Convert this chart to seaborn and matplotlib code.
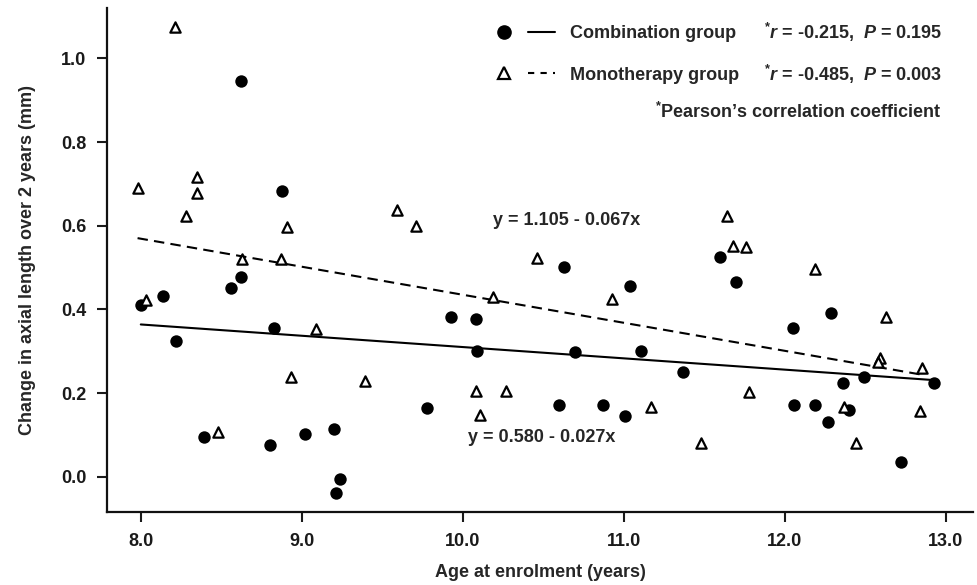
import numpy as np
import pandas as pd
import matplotlib
matplotlib.use("Agg")
import matplotlib.pyplot as plt
from matplotlib.lines import Line2D
from matplotlib.legend_handler import HandlerTuple
import seaborn as sns

# Datos
comb_age = [8.00, 8.14, 8.22, 8.39, 8.56, 8.62, 8.62, 8.80, 8.83, 8.88,
            9.02, 9.20, 9.24, 9.21, 9.78, 9.93, 10.08, 10.09, 10.60, 10.63,
            10.70, 10.87, 11.01, 11.04, 11.11, 11.37, 11.60, 11.70, 12.05, 12.06,
            12.19, 12.27, 12.29, 12.36, 12.40, 12.49, 12.72, 12.93]
comb_al = [0.410, 0.432, 0.325, 0.095, 0.451, 0.477, 0.945, 0.076, 0.356, 0.683,
           0.103, 0.115, -0.005, -0.038, 0.165, 0.382, 0.377, 0.301, 0.172, 0.501,
           0.298, 0.172, 0.146, 0.456, 0.301, 0.250, 0.525, 0.465, 0.356, 0.172,
           0.172, 0.131, 0.391, 0.225, 0.160, 0.239, 0.036, 0.225]

mono_age = [7.98, 8.03, 8.21, 8.28, 8.35, 8.35, 8.48, 8.63, 8.87, 8.91,
            8.93, 9.09, 9.39, 9.59, 9.71, 10.08, 10.11, 10.19, 10.27, 10.46,
            10.93, 11.17, 11.48, 11.64, 11.68, 11.76, 11.78, 12.19, 12.37, 12.44,
            12.59, 12.58, 12.63, 12.85, 12.84]
mono_al = [0.690, 0.422, 1.074, 0.623, 0.716, 0.678, 0.107, 0.520, 0.520, 0.597,
           0.239, 0.353, 0.229, 0.637, 0.599, 0.205, 0.148, 0.430, 0.205, 0.523,
           0.425, 0.167, 0.081, 0.623, 0.551, 0.549, 0.203, 0.496, 0.167, 0.081,
           0.283, 0.275, 0.382, 0.260, 0.158]

# Rectas de regresion (del grafico)
comb_fit = (0.580, -0.027)
mono_fit = (1.105, -0.067)

x_ticks = [8.0, 9.0, 10.0, 11.0, 12.0, 13.0]
y_ticks = [0.0, 0.2, 0.4, 0.6, 0.8, 1.0]

sns.set_theme(style="ticks")
plt.rcParams["font.family"] = ["Liberation Sans", "DejaVu Sans"]
plt.rcParams["font.weight"] = "bold"
plt.rcParams["mathtext.fontset"] = "custom"
plt.rcParams["mathtext.it"] = "Liberation Sans:italic:bold"
plt.rcParams["mathtext.rm"] = "Liberation Sans:bold"

df_comb = pd.DataFrame({"age": comb_age, "al": comb_al})
df_mono = pd.DataFrame({"age": mono_age, "al": mono_al})

fit_comb = pd.DataFrame({"age": [min(comb_age), max(comb_age)]})
fit_comb["al"] = comb_fit[0] + comb_fit[1] * fit_comb["age"]
fit_mono = pd.DataFrame({"age": [min(mono_age), max(mono_age)]})
fit_mono["al"] = mono_fit[0] + mono_fit[1] * fit_mono["age"]

fig = plt.figure(figsize=(9.77, 5.85), dpi=100)
ax = fig.add_axes([0.1095, 0.125, 0.8865, 0.861])

sns.lineplot(data=fit_mono, x="age", y="al", ax=ax, color="black", lw=1.5,
             linestyle=(0, (5, 3)))
sns.lineplot(data=fit_comb, x="age", y="al", ax=ax, color="black", lw=1.5)
sns.scatterplot(data=df_comb, x="age", y="al", ax=ax, color="black",
                marker="o", s=80, edgecolor="black", linewidth=0, zorder=3)
sns.scatterplot(data=df_mono, x="age", y="al", ax=ax, marker="^", s=55,
                facecolor="white", edgecolor="black", linewidth=1.6, zorder=3)

ax.set_xlim(7.79, 13.17)
ax.set_ylim(-0.084, 1.12)
ax.set_xticks(x_ticks)
ax.set_yticks(y_ticks)
ax.set_xticklabels([f"{v:.1f}" for v in x_ticks])
ax.set_yticklabels([f"{v:.1f}" for v in y_ticks])
ax.tick_params(direction="out", length=7, width=1.5, labelsize=13,
               colors="#1a1a1a", pad=8)
for lab in ax.get_xticklabels() + ax.get_yticklabels():
    lab.set_fontweight("bold")
    lab.set_fontsize(13)
sns.despine(ax=ax)
for s in ["left", "bottom"]:
    ax.spines[s].set_linewidth(1.6)
    ax.spines[s].set_color("#111111")

ax.set_xlabel("Age at enrolment (years)", fontsize=13, fontweight="bold",
              labelpad=10)
ax.set_ylabel("Change in axial length over 2 years (mm)", fontsize=13,
              fontweight="bold", labelpad=18)

ax.text(10.19, 0.613, "y = 1.105 - 0.067x", fontsize=13, fontweight="bold",
        va="center", ha="left")
ax.text(10.03, 0.093, "y = 0.580 - 0.027x", fontsize=13, fontweight="bold",
        va="center", ha="left")

# Leyenda
h_comb = (Line2D([], [], marker="o", color="black", ls="none", ms=9.5),
          Line2D([], [], color="black", lw=1.5))
h_mono = (Line2D([], [], marker="^", color="black", mfc="white", mew=1.6,
                 ls="none", ms=8.5),
          Line2D([], [], color="black", lw=1.5, linestyle=(0, (3, 3))))
ax.legend([h_comb, h_mono], ["Combination group", "Monotherapy group"],
          handler_map={tuple: HandlerTuple(ndivide=None, pad=0.6)},
          loc="upper left", bbox_to_anchor=(0.432, 0.984), frameon=False,
          fontsize=13, handlelength=3.6, handletextpad=0.83,
          labelspacing=1.35, borderpad=0)

ax.text(0.964, 0.952, r"$^{*}\mathit{r}$ = -0.215,  $\mathit{P}$ = 0.195",
        transform=ax.transAxes, ha="right", va="center", fontsize=13)
ax.text(0.964, 0.869, r"$^{*}\mathit{r}$ = -0.485,  $\mathit{P}$ = 0.003",
        transform=ax.transAxes, ha="right", va="center", fontsize=13)
ax.text(0.964, 0.794, r"$^{*}$Pearson’s correlation coefficient",
        transform=ax.transAxes, ha="right", va="center", fontsize=13)

plt.savefig("out.png", dpi=100)
plt.close()
